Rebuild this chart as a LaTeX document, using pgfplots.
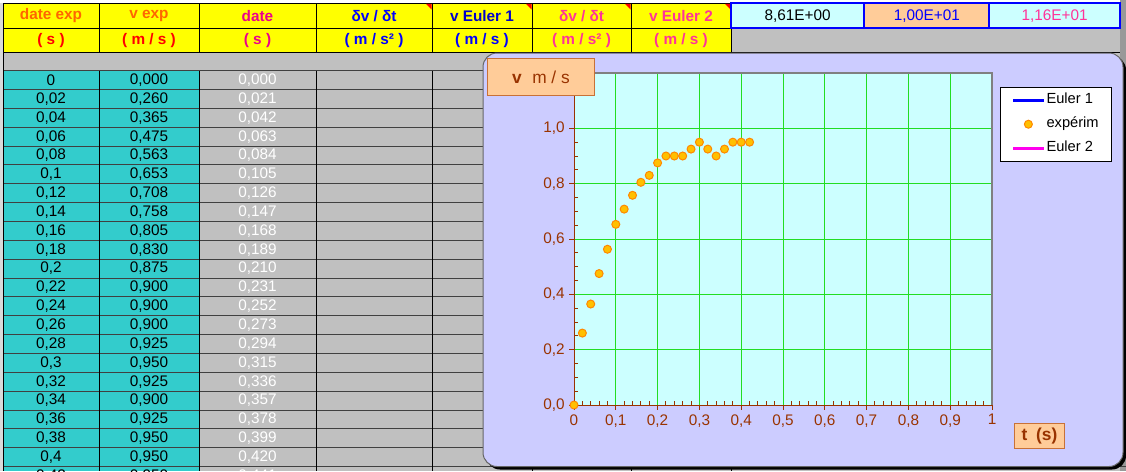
\documentclass[border=0pt]{standalone}
\usepackage{fontspec}
\setmainfont{Liberation Sans}
\usepackage{pgfplots}
\usepackage{pgfplotstable}
\pgfplotsset{compat=1.18}

\definecolor{cellteal}{HTML}{33CCCC}
\definecolor{cellgray}{HTML}{C0C0C0}
\definecolor{hdryellow}{HTML}{FFFF00}
\definecolor{panel}{HTML}{CCCCFF}
\definecolor{plotbg}{HTML}{CCFFFF}
\definecolor{peach}{HTML}{FFCC99}
\definecolor{peachline}{HTML}{C87137}
\definecolor{axbrown}{HTML}{993300}
\definecolor{gridgreen}{HTML}{22DD22}
\definecolor{ptfill}{HTML}{FFC000}
\definecolor{ptdraw}{HTML}{FF8800}
\definecolor{hpink}{HTML}{FF3399}
\definecolor{horange}{HTML}{FF6600}
\definecolor{hblue}{HTML}{0000FF}
\definecolor{hdblue}{HTML}{0000CC}
\definecolor{emagenta}{HTML}{FF00EE}

% date exp (s), v exp (m/s)
\pgfplotstableread{
t    v
0    0.000
0.02 0.260
0.04 0.365
0.06 0.475
0.08 0.563
0.1  0.653
0.12 0.708
0.14 0.758
0.16 0.805
0.18 0.830
0.2  0.875
0.22 0.900
0.24 0.900
0.26 0.900
0.28 0.925
0.3  0.950
0.32 0.925
0.34 0.900
0.36 0.925
0.38 0.950
0.4  0.950
0.42 0.950
}\expdata

% the same rows as the spreadsheet shows them, plus the date column
\pgfplotstableread{
a    b     c
0    0,000 0,000
0,02 0,260 0,021
0,04 0,365 0,042
0,06 0,475 0,063
0,08 0,563 0,084
0,1  0,653 0,105
0,12 0,708 0,126
0,14 0,758 0,147
0,16 0,805 0,168
0,18 0,830 0,189
0,2  0,875 0,210
0,22 0,900 0,231
0,24 0,900 0,252
0,26 0,900 0,273
0,28 0,925 0,294
0,3  0,950 0,315
0,32 0,925 0,336
0,34 0,900 0,357
0,36 0,925 0,378
0,38 0,950 0,399
0,4  0,950 0,420
0,42 0,950 0,441
}\celltext

\newcommand{\cellfont}{\fontsize{11.5}{13}\selectfont}
\newcommand{\hdr}{\fontsize{11.5}{13}\selectfont\bfseries}

\begin{document}
\begin{tikzpicture}
\useasboundingbox (0pt,0pt) rectangle (844.5pt,-353.25pt);
% spreadsheet, 1 unit = 1 px, y downwards
\begin{scope}[x=0.75pt,y=-0.75pt]
\clip (0,0) rectangle (1126,471);
\fill[cellgray] (0,0) rectangle (1126,471);
\fill[white] (0,0) rectangle (1120,3.3);
\fill[black!40] (1120,0) rectangle (1126,471);
\fill[black!15] (0,3.3) rectangle (3,471);
\fill[hdryellow] (3,3.3) rectangle (731,52.3);
\fill[cellteal] (3,70.7) rectangle (199,471);

% grid of cells
\foreach \k in {0,...,21}
  \draw[black!75, line width=0.75pt] (3,{70.7+18.85*\k}) -- (1126,{70.7+18.85*\k});
\foreach \x in {99,199,316,432,532,631,731}
  \draw[black, line width=0.75pt] (\x,3.3) -- (\x,52.3) (\x,70.7) -- (\x,471);
\draw[black, line width=0.75pt] (3,3.3) -- (3,471);
\draw[black, line width=0.75pt] (3,3.3) -- (731,3.3) (3,28.3) -- (731,28.3) (3,52.3) -- (1120,52.3);

% comment markers
\foreach \x in {432,532,631,731}
  \fill[red] (\x-6,3.8) -- (\x-0.5,3.8) -- (\x-0.5,9.5) -- cycle;

% header
\node[text=horange] at (51,16) {\hdr date exp};
\node[text=horange] at (149,16) {\hdr v exp};
\node[text=magenta] at (257.5,16) {\hdr date};
\node[text=hblue] at (374,16) {\hdr δv / δt};
\node[text=hdblue] at (482,16) {\hdr v Euler 1};
\node[text=hpink] at (581.5,16) {\hdr δv / δt};
\node[text=hpink] at (681,16) {\hdr v Euler 2};
\node[text=red] at (51,40.5) {\hdr ( s )};
\node[text=red] at (149,40.5) {\hdr ( m / s )};
\node[text=magenta] at (257.5,40.5) {\hdr ( s )};
\node[text=hblue] at (374,40.5) {\hdr ( m / s² )};
\node[text=hblue] at (482,40.5) {\hdr ( m / s )};
\node[text=hpink] at (581.5,40.5) {\hdr ( m / s² )};
\node[text=hpink] at (681,40.5) {\hdr ( m / s )};

% constants
\filldraw[fill=plotbg, draw=blue, line width=1.5pt] (731,3.3) rectangle (864.3,28.3);
\filldraw[fill=peach, draw=blue, line width=1.5pt] (864.3,3.3) rectangle (989.3,28.3);
\filldraw[fill=plotbg, draw=blue, line width=1.5pt] (989.3,3.3) rectangle (1120,28.3);
\node at (797.6,16) {\cellfont 8,61E+00};
\node[text=hblue] at (926.8,16) {\cellfont 1,00E+01};
\node[text=hpink] at (1054.6,16) {\cellfont 1,16E+01};

% values
\foreach \i in {0,...,21}{
  \pgfplotstablegetelem{\i}{a}\of\celltext \let\aval\pgfplotsretval
  \pgfplotstablegetelem{\i}{b}\of\celltext \let\bval\pgfplotsretval
  \pgfplotstablegetelem{\i}{c}\of\celltext \let\cval\pgfplotsretval
  \node at (51,{80.1+18.85*\i}) {\cellfont\aval};
  \node at (149,{80.1+18.85*\i}) {\cellfont\bval};
  \node[text=white] at (257.5,{80.1+18.85*\i}) {\cellfont\cval};
}

% chart panel
\fill[black, rounded corners=10.5pt] (486,56) rectangle (1126,469.5);
\filldraw[fill=panel, draw=black!60, line width=0.75pt, rounded corners=10.5pt] (483,53) rectangle (1123,466.5);
\end{scope}

\begin{axis}[
  at={(430.5pt,-303.75pt)}, anchor=south west,
  scale only axis, width=313.5pt, height=249pt,
  xmin=0, xmax=1, ymin=0, ymax=1.2,
  xtick={0,0.1,0.2,0.3,0.4,0.5,0.6,0.7,0.8,0.9,1},
  ytick={0,0.2,0.4,0.6,0.8,1},
  minor x tick num=4, minor y tick num=3,
  axis x line*=bottom, axis y line*=left,
  axis line style={draw=axbrown, line width=0.75pt, -},
  tick style={draw=axbrown, line width=0.75pt},
  tick align=outside, major tick length=3.5pt, minor tick length=-3pt,
  grid=major, major grid style={gridgreen, line width=0.5pt},
  axis background/.style={fill=plotbg},
  clip=false,
  /pgf/number format/use comma,
  /pgf/number format/assume math mode=true,
  xticklabel style={font=\fontsize{11.5}{13}\selectfont, text=axbrown},
  yticklabel style={font=\fontsize{11.5}{13}\selectfont, text=axbrown,
    /pgf/number format/.cd, fixed, fixed zerofill, precision=1},
  legend image code/.code={\draw[mark repeat=2,mark phase=2,#1]
    plot coordinates {(0pt,0pt)(11.5pt,0pt)(23pt,0pt)};},
  legend style={at={(1.287,0.958)}, anchor=north east, draw=black,
    fill=white, font=\fontsize{11}{13}\selectfont, row sep=5.5pt,
    inner xsep=8.75pt, inner ysep=3.5pt,
    nodes={inner sep=1pt, text height=8pt, text depth=2.5pt}},
  legend cell align=left,
]
\addlegendimage{blue, line width=2.25pt}
\addlegendentry{Euler 1}
\addplot[only marks, mark=*, mark size=3pt,
  mark options={fill=ptfill, draw=ptdraw, line width=0.75pt}]
  table[x=t, y=v] {\expdata};
\addlegendentry{expérim}
\addlegendimage{emagenta, line width=2.25pt}
\addlegendentry{Euler 2}
\draw[black!50, line width=1.5pt] (rel axis cs:0,1) -- (rel axis cs:1,1) -- (rel axis cs:1,0);
\end{axis}

% axis titles
\begin{scope}[x=0.75pt,y=-0.75pt]
\node[draw=peachline, fill=peach, line width=0.75pt, anchor=north west,
  minimum width=80.25pt, minimum height=27.75pt, inner sep=0pt, text=axbrown]
  at (487,58) {\fontsize{13}{15}\selectfont\textbf{v}\hspace{0.6em}m / s};
\node[draw=peachline, fill=peach, line width=0.75pt, anchor=north west,
  minimum width=37.5pt, minimum height=18.75pt, inner sep=0pt, text=axbrown]
  at (1014,423) {\fontsize{13}{15}\selectfont\bfseries t\hspace{0.5em}(s)};
\end{scope}
\end{tikzpicture}
\end{document}
